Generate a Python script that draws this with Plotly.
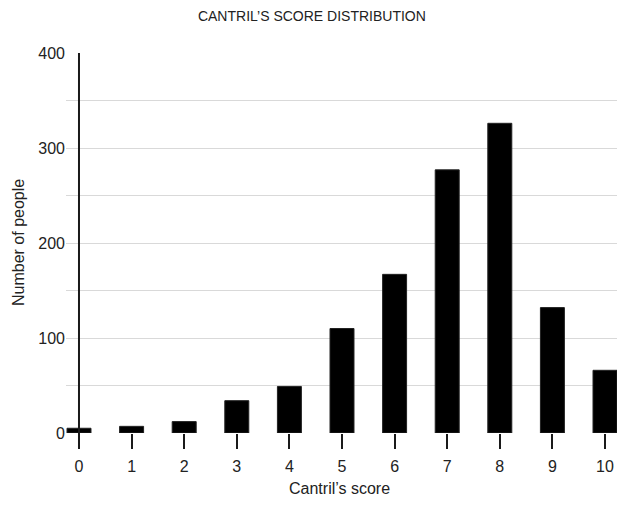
import plotly.graph_objects as go

# Cantril's score distribution
scores = [0, 1, 2, 3, 4, 5, 6, 7, 8, 9, 10]
people = [5, 7, 12, 34, 49, 110, 167, 277, 326, 132, 66]
y_ticks = [0, 100, 200, 300, 400]

font = "Liberation Sans, Arial, sans-serif"
text_col = "#222222"

fig = go.Figure(
    go.Bar(
        x=scores,
        y=people,
        width=0.456,
        marker=dict(color="black", line=dict(color=text_col, width=1)),
        showlegend=False,
    )
)

# vertical axis line at score 0, running down to the tick ends
fig.add_shape(
    type="line",
    xref="x",
    yref="y domain",
    x0=0,
    x1=0,
    y0=-0.04,
    y1=1,
    line=dict(color="#1a1a1a", width=2),
    layer="above",
)

# axis titles as annotations so they sit where the reference has them
fig.add_annotation(
    text="Number of people",
    xref="paper",
    yref="paper",
    x=0,
    y=0.5,
    xshift=-48,
    xanchor="center",
    yanchor="middle",
    textangle=-90,
    showarrow=False,
    font=dict(size=16, color=text_col),
)
fig.add_annotation(
    text="Cantril’s score",
    xref="paper",
    yref="paper",
    x=0.497,
    y=0,
    yshift=-55,
    xanchor="center",
    yanchor="middle",
    showarrow=False,
    font=dict(size=16, color=text_col),
)

fig.update_xaxes(
    range=[-0.247, 10.228],
    tickvals=scores,
    ticks="outside",
    ticklen=15,
    tickwidth=2,
    tickcolor="#1a1a1a",
    ticklabelstandoff=4,
    showgrid=False,
    zeroline=False,
    showline=False,
    automargin=False,
    tickfont=dict(size=16, color=text_col),
)
fig.update_yaxes(
    range=[0, 400],
    tickvals=y_ticks,
    showgrid=True,
    gridcolor="#d9d9d9",
    gridwidth=1,
    minor=dict(dtick=50, showgrid=True, gridcolor="#d9d9d9", gridwidth=1),
    zeroline=False,
    showline=False,
    ticks="",
    automargin=False,
    tickfont=dict(size=16, color=text_col),
)

fig.update_layout(
    width=609,
    height=489,
    margin=dict(l=58, r=0, t=45, b=64),
    plot_bgcolor="white",
    paper_bgcolor="white",
    font=dict(family=font, color=text_col),
    title=dict(
        text="CANTRIL’S SCORE DISTRIBUTION",
        x=0.499,
        xanchor="center",
        y=1 - 3 / 489,
        yanchor="top",
        font=dict(size=14, color=text_col),
    ),
)

fig.write_html("out.html")
